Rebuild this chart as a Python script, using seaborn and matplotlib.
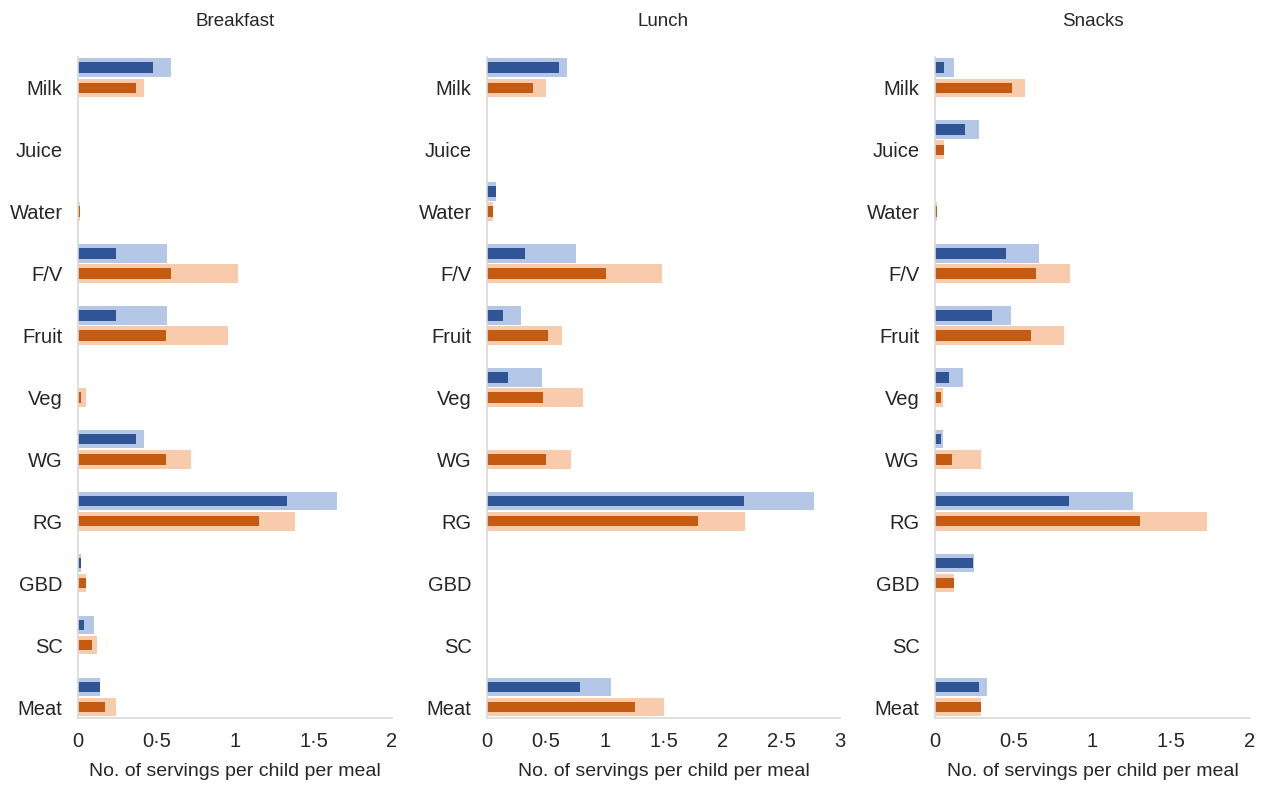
import numpy as np
import pandas as pd
import matplotlib
matplotlib.use('Agg')
import matplotlib.pyplot as plt
import seaborn as sns

foods = ['Milk', 'Juice', 'Water', 'F/V', 'Fruit', 'Veg', 'WG', 'RG', 'GBD', 'SC', 'Meat']
meals = ['Breakfast', 'Lunch', 'Snacks']

# blue group: served (light) / consumed (dark)
blue_served = {
    'Breakfast': [0.59, 0, 0, 0.57, 0.57, 0, 0.42, 1.65, 0.02, 0.10, 0.14],
    'Lunch':     [0.68, 0, 0.08, 0.76, 0.29, 0.47, 0, 2.78, 0, 0, 1.05],
    'Snacks':    [0.12, 0.28, 0, 0.66, 0.48, 0.18, 0.05, 1.26, 0.25, 0, 0.33],
}
blue_eaten = {
    'Breakfast': [0.48, 0, 0, 0.24, 0.24, 0, 0.37, 1.33, 0.02, 0.04, 0.14],
    'Lunch':     [0.61, 0, 0.08, 0.32, 0.14, 0.18, 0, 2.18, 0, 0, 0.79],
    'Snacks':    [0.06, 0.19, 0, 0.45, 0.36, 0.09, 0.04, 0.85, 0.24, 0, 0.28],
}
# orange group: served (light) / consumed (dark)
orange_served = {
    'Breakfast': [0.42, 0, 0.01, 1.02, 0.955, 0.05, 0.72, 1.38, 0.05, 0.12, 0.24],
    'Lunch':     [0.50, 0, 0.05, 1.49, 0.64, 0.82, 0.71, 2.19, 0, 0, 1.50],
    'Snacks':    [0.57, 0.06, 0.01, 0.86, 0.82, 0.05, 0.29, 1.73, 0.12, 0, 0.29],
}
orange_eaten = {
    'Breakfast': [0.37, 0, 0.01, 0.595, 0.56, 0.02, 0.56, 1.155, 0.05, 0.09, 0.17],
    'Lunch':     [0.39, 0, 0.05, 1.01, 0.52, 0.48, 0.50, 1.79, 0, 0, 1.26],
    'Snacks':    [0.49, 0.06, 0.01, 0.64, 0.61, 0.04, 0.11, 1.30, 0.12, 0, 0.29],
}
xmax = {'Breakfast': 2, 'Lunch': 3, 'Snacks': 2}

light_pal = {'A': '#B4C7E7', 'B': '#F8CBAD'}
dark_pal = {'A': '#2F5597', 'B': '#C55A11'}

sns.set_theme(style='white')
plt.rcParams['font.family'] = ['Liberation Sans', 'DejaVu Sans']

fig = plt.figure(figsize=(12.66, 7.86), dpi=100)
lefts = [78, 487, 935]
rights = [392, 840, 1250]
top_px, bot_px = 56.7, 718

for meal, l, r in zip(meals, lefts, rights):
    ax = fig.add_axes([l / 1266, 1 - bot_px / 786, (r - l) / 1266, (bot_px - top_px) / 786])
    light = pd.DataFrame({'food': foods * 2,
                          'group': ['A'] * 11 + ['B'] * 11,
                          'value': blue_served[meal] + orange_served[meal]})
    dark = pd.DataFrame({'food': foods * 2,
                         'group': ['A'] * 11 + ['B'] * 11,
                         'value': blue_eaten[meal] + orange_eaten[meal]})
    sns.barplot(data=light, x='value', y='food', hue='group', order=foods, hue_order=['A', 'B'],
                palette=light_pal, saturation=1, width=0.65, gap=0.08, orient='h',
                errorbar=None, legend=False, linewidth=0, ax=ax)
    sns.barplot(data=dark, x='value', y='food', hue='group', order=foods, hue_order=['A', 'B'],
                palette=dark_pal, saturation=1, width=0.65, gap=0.48, orient='h',
                errorbar=None, legend=False, linewidth=0, ax=ax)

    ax.set_ylim(10.34, -0.34)
    ax.set_yticks(np.arange(len(foods)) + 0.1625, foods)
    ax.set_xlim(0, xmax[meal])
    ticks = np.arange(0, xmax[meal] + 0.01, 0.5)
    ax.set_xticks(ticks, [f'{t:g}'.replace('.', '·') for t in ticks])
    ax.tick_params(axis='both', length=0, colors='#262626')
    ax.tick_params(axis='x', pad=10, labelsize=14.5)
    ax.tick_params(axis='y', pad=11, labelsize=14.5)
    ax.set_ylabel('')
    ax.set_xlabel('No. of servings per child per meal', fontsize=14, color='#262626', labelpad=9)
    ax.set_title(meal, fontsize=13.5, color='#262626', pad=22)
    for s in ['top', 'right']:
        ax.spines[s].set_visible(False)
    for s in ['left', 'bottom']:
        ax.spines[s].set_color('#D9D9D9')
        ax.spines[s].set_linewidth(1.2)

fig.savefig('out.png', dpi=100)
